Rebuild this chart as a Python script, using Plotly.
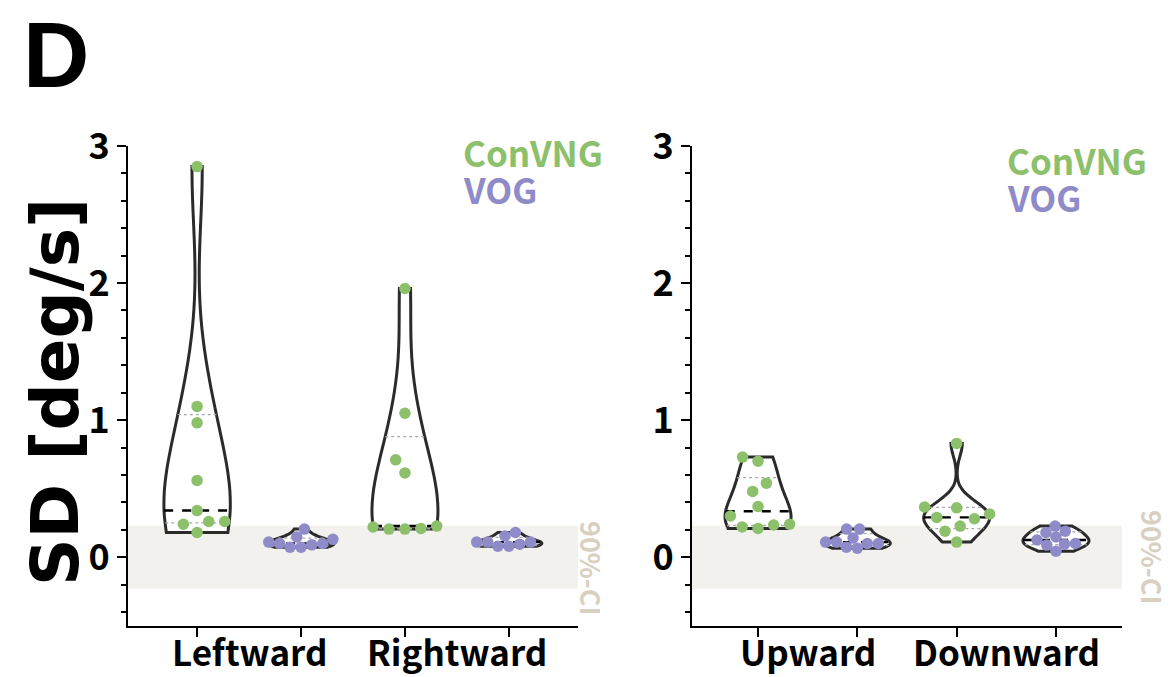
import numpy as np
import plotly.graph_objects as go

# ---------------- data ----------------
left_categories = ["Leftward", "Rightward"]
right_categories = ["Upward", "Downward"]
groups = ["ConVNG", "VOG"]

leftward_convng = [2.85, 1.10, 0.98, 0.56, 0.34, 0.26, 0.26, 0.24, 0.18]
leftward_vog = [0.205, 0.13, 0.09, 0.10, 0.11, 0.147, 0.073, 0.10, 0.073]
rightward_convng = [1.96, 1.05, 0.71, 0.615, 0.205, 0.227, 0.21, 0.22, 0.205]
rightward_vog = [0.155, 0.18, 0.095, 0.11, 0.11, 0.08, 0.11, 0.08]
upward_convng = [0.70, 0.73, 0.54, 0.48, 0.37, 0.30, 0.24, 0.22, 0.235, 0.21]
upward_vog = [0.10, 0.14, 0.10, 0.11, 0.205, 0.205, 0.066, 0.11, 0.073]
downward_convng = [0.83, 0.36, 0.366, 0.29, 0.315, 0.28, 0.227, 0.19, 0.11]
downward_vog = [0.227, 0.18, 0.19, 0.147, 0.125, 0.095, 0.10, 0.088, 0.044]

ci_half_width = 0.23          # 90%-CI band: +/- this value
y_tick_values = [0, 1, 2, 3]
y_tick_labels = ["0", "1", "2", "3"]
y_range = [-0.5, 3]

# ---------------- style ----------------
W, H = 1171, 677
GREEN = "#8dc06b"
PURPLE = "#8f8bc8"
BAND = "#f2f1ed"
CI_TEXT = "#d8d0c0"
OUTLINE = "#2b2b2b"
CJK = "Noto Sans CJK KR"

X_RANGE = [-0.665, 3.665]
Y_PX_TOP, Y_PX_BOT = 146.0, 625.7
panels = [
    dict(xa="x", ya="y", px0=128.0, px1=578.0, cats=left_categories,
         data=[leftward_convng, leftward_vog, rightward_convng, rightward_vog]),
    dict(xa="x2", ya="y2", px0=692.0, px1=1122.0, cats=right_categories,
         data=[upward_convng, upward_vog, downward_convng, downward_vog]),
]
VIOLIN_PX = 66.0
MARKER = 11.5
SWARM_D = [16.0, 11.0]   # ConVNG, VOG
BW_FACTOR = 1.15


def silverman(v):
    v = np.asarray(v, float)
    sd = v.std(ddof=1)
    q1, q3 = np.percentile(v, [25, 75], method="weibull")
    a = min(sd, (q3 - q1) / 1.349)
    return max(1.059 * a * len(v) ** -0.2, (v.max() - v.min()) / 100)


def kde_profile(v, h):
    v = np.asarray(v, float)
    lo, hi = v.min(), v.max()
    n = int(np.ceil((hi - lo) / (h / 3)))
    t = lo + (hi - lo) / n * np.arange(n + 1)
    d = np.exp(-0.5 * ((t[:, None] - v[None, :]) / h) ** 2).sum(1)
    return t, d


def beeswarm(v, px_x, px_y, dia):
    v = np.asarray(v, float)
    order = np.argsort(v, kind="stable")
    placed = []
    offs = np.zeros(len(v))
    for i in order:
        y = v[i] * px_y
        ivs = []
        for xj, yj in placed:
            dy = abs(y - yj)
            if dy < dia:
                w = np.sqrt(dia * dia - dy * dy)
                ivs.append((xj - w, xj + w))
        cands = [0.0] + [e for iv in ivs for e in iv]
        cands.sort(key=lambda c: (round(abs(c), 6), c))
        x = 0.0
        for c in cands:
            if all(not (a + 1e-6 < c < b - 1e-6) for a, b in ivs):
                x = c
                break
        placed.append((x, y))
        offs[i] = x / px_x
    return offs


fig = go.Figure()
y_px_per_unit = (Y_PX_BOT - Y_PX_TOP) / (y_range[1] - y_range[0])

for p in panels:
    px_per_unit = (p["px1"] - p["px0"]) / (X_RANGE[1] - X_RANGE[0])
    vwidth = VIOLIN_PX / px_per_unit
    for k, vals in enumerate(p["data"]):
        color = GREEN if k % 2 == 0 else PURPLE
        h = silverman(vals) * BW_FACTOR
        fig.add_trace(go.Violin(
            x0=k, y=vals, xaxis=p["xa"], yaxis=p["ya"], width=vwidth,
            spanmode="hard", scalemode="width", bandwidth=h, points=False,
            fillcolor="white", line=dict(color=OUTLINE, width=3),
            box_visible=False, meanline_visible=False, hoverinfo="skip",
        ))
        t, d = kde_profile(vals, h)
        q1, med, q3 = np.percentile(vals, [25, 50, 75], method="weibull")
        for q, dash, col, lw in [(q1, "dot", "#a9a9a9", 1.3), (q3, "dot", "#a9a9a9", 1.3),
                                 (med, "dash", "black", 2.4)]:
            hw = np.interp(q, t, d) / d.max() * vwidth / 2
            fig.add_trace(go.Scatter(
                x=[k - hw, k + hw], y=[q, q], mode="lines", xaxis=p["xa"], yaxis=p["ya"],
                line=dict(color=col, width=lw, dash=dash), hoverinfo="skip"))
        offs = beeswarm(vals, px_per_unit, y_px_per_unit, SWARM_D[k % 2])
        fig.add_trace(go.Scatter(
            x=k + offs, y=vals, mode="markers", xaxis=p["xa"], yaxis=p["ya"],
            marker=dict(color=color, size=MARKER, line=dict(width=0)),
            name=groups[k % 2]))

ax_common = dict(showline=True, linecolor="black", linewidth=2, ticks="outside",
                 ticklen=9, tickwidth=2, tickcolor="black", showgrid=False,
                 zeroline=False, automargin=False)
y_dom = [1 - Y_PX_BOT / H, 1 - Y_PX_TOP / H]
yax = dict(domain=y_dom, range=y_range, tickmode="array", tickvals=y_tick_values,
           ticktext=y_tick_labels,
           tickfont=dict(family=CJK, size=36, color="black", weight=700),
           minor=dict(tickmode="linear", tick0=0, dtick=0.2, ticks="outside", ticklen=5,
                      tickwidth=1.6, tickcolor="black"),
           **ax_common)
fig.update_layout(
    width=W, height=H, margin=dict(l=0, r=0, t=0, b=0, pad=0, autoexpand=False),
    paper_bgcolor="white", plot_bgcolor="white", showlegend=False,
    violinmode="overlay",
    xaxis=dict(domain=[panels[0]["px0"] / W, panels[0]["px1"] / W], range=X_RANGE,
               tickvals=[0, 1, 2, 3], showticklabels=False, anchor="y", **ax_common),
    yaxis=dict(anchor="x", **yax),
    xaxis2=dict(domain=[panels[1]["px0"] / W, panels[1]["px1"] / W], range=X_RANGE,
                tickvals=[0, 1, 2, 3], showticklabels=False, anchor="y2", **ax_common),
    yaxis2=dict(anchor="x2", **yax),
)

annotations = []
shapes = []
ci_pos = [(592, 568), (1153, 557)]
legend_pos = [(461, 151, 188), (1005, 159, 197)]
for i, p in enumerate(panels):
    xa, ya = p["xa"], p["ya"]
    shapes.append(dict(type="rect", xref=f"{xa} domain", yref=ya, x0=0, x1=1,
                       y0=-ci_half_width, y1=ci_half_width, fillcolor=BAND,
                       line=dict(width=0), layer="below"))
    for j, cat in enumerate(p["cats"]):
        annotations.append(dict(x=2 * j + 0.5, y=1 - 650 / H, xref=xa, yref="paper",
                                text=cat, showarrow=False, xanchor="center", yanchor="middle",
                                font=dict(family=CJK, size=35, color="black", weight=700)))
    cx, cy = ci_pos[i]
    annotations.append(dict(x=cx / W, y=1 - cy / H, xref="paper", yref="paper", text="90%-CI",
                            textangle=90, showarrow=False, xanchor="center", yanchor="middle",
                            font=dict(family=CJK, size=27, color=CI_TEXT, weight=700)))
    lx, ly1, ly2 = legend_pos[i]
    annotations.append(dict(x=lx / W, y=1 - ly1 / H, xref="paper", yref="paper", text=groups[0],
                            showarrow=False, xanchor="left", yanchor="middle",
                            font=dict(family=CJK, size=35, color=GREEN, weight=700)))
    annotations.append(dict(x=lx / W, y=1 - ly2 / H, xref="paper", yref="paper", text=groups[1],
                            showarrow=False, xanchor="left", yanchor="middle",
                            font=dict(family=CJK, size=35, color=PURPLE, weight=700)))

annotations.append(dict(x=55 / W, y=1 - 392 / H, xref="paper", yref="paper", text="SD [deg/s]",
                        textangle=-90, showarrow=False, xanchor="center", yanchor="middle",
                        font=dict(family="DejaVu Sans", size=66, color="black", weight=700)))
annotations.append(dict(x=56 / W, y=1 - 55 / H, xref="paper", yref="paper", text="D",
                        showarrow=False, xanchor="center", yanchor="middle",
                        font=dict(family="Liberation Sans", size=92, color="black", weight=700)))

fig.update_layout(annotations=annotations, shapes=shapes)
fig.write_html("out.html")
